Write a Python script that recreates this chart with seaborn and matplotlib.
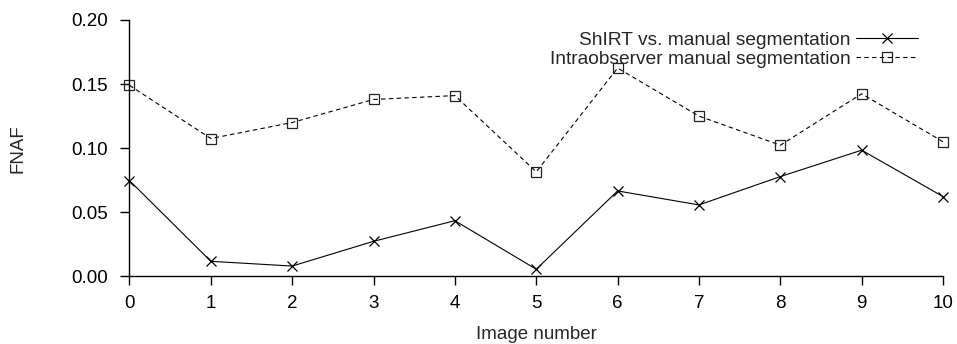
import matplotlib
matplotlib.use("Agg")
import matplotlib.pyplot as plt
import seaborn as sns
import pandas as pd

image_number = [0, 1, 2, 3, 4, 5, 6, 7, 8, 9, 10]
shirt_vs_manual = [0.0747, 0.0117, 0.0080, 0.0273, 0.0434, 0.0055, 0.0666, 0.0557, 0.0778, 0.0984, 0.0622]
intraobserver = [0.1490, 0.1075, 0.1200, 0.1380, 0.1410, 0.0815, 0.1625, 0.1250, 0.1023, 0.1424, 0.1050]
x_ticks = [0, 1, 2, 3, 4, 5, 6, 7, 8, 9, 10]
y_ticks = [0.00, 0.05, 0.10, 0.15, 0.20]

label_a = "ShIRT vs. manual segmentation"
label_b = "Intraobserver manual segmentation"

df = pd.DataFrame({"image": image_number, "a": shirt_vs_manual, "b": intraobserver})

sns.set_theme(style="ticks")
plt.rcParams["font.family"] = ["Liberation Sans", "DejaVu Sans"]

fig = plt.figure(figsize=(9.57, 3.44), dpi=100)
ax = fig.add_axes([0.1353, 0.1968, 0.8501, 0.7451])

sns.lineplot(data=df, x="image", y="a", ax=ax, color="black", linewidth=0.8,
             marker="x", markersize=7, markeredgecolor="black", markeredgewidth=0.9,
             label=label_a, clip_on=False)
sns.lineplot(data=df, x="image", y="b", ax=ax, color="black", linewidth=0.8,
             linestyle=(0, (4, 3)), marker="s", markersize=6.5, markerfacecolor="none",
             markeredgecolor="#222222", markeredgewidth=0.9, label=label_b, clip_on=False)

ax.set_xlim(0, 10)
ax.set_ylim(0, 0.2)
ax.set_xticks(x_ticks)
ax.set_yticks(y_ticks)
ax.set_yticklabels([f"{v:.2f}" for v in y_ticks])
ax.tick_params(axis="both", direction="out", length=6.5, width=1, labelsize=13.5, colors="black")
ax.tick_params(axis="x", pad=7)
ax.tick_params(axis="y", pad=9)
for side in ("top", "right"):
    ax.spines[side].set_visible(False)
for side in ("left", "bottom"):
    ax.spines[side].set_linewidth(1.0)
    ax.spines[side].set_color("black")

ax.set_xlabel("Image number", fontsize=13.5)
ax.set_ylabel("FNAF", fontsize=13.5)
ax.xaxis.set_label_coords(0.5, -0.228)
ax.xaxis.label.set_va("center")
ax.yaxis.set_label_coords(-0.137, 0.5)
ax.yaxis.label.set_va("center")

ax.legend(loc="upper right", bbox_to_anchor=(0.959, 0.908), bbox_transform=fig.transFigure,
          frameon=False, markerfirst=False, fontsize=13.8, handlelength=3.2,
          handletextpad=0.3, labelspacing=0.08, borderpad=0, borderaxespad=0)

fig.savefig("out.png", dpi=100)
